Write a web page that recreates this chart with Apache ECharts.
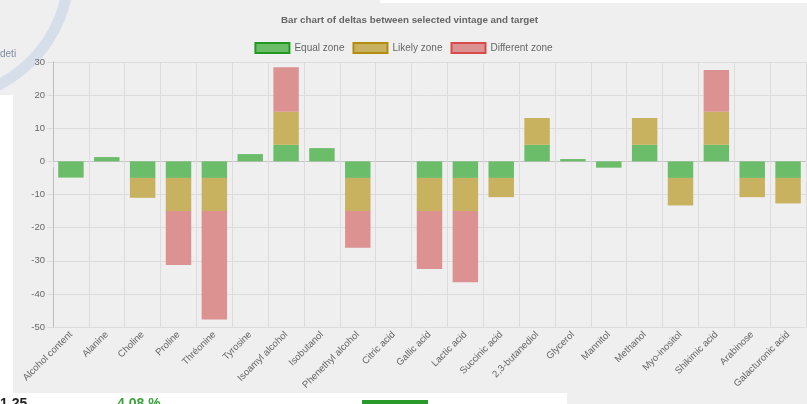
<!DOCTYPE html>
<html>
<head>
<meta charset="utf-8">
<script src="https://cdn.jsdelivr.net/npm/echarts@6/dist/echarts.min.js"></script>
<style>
  html, body { margin: 0; padding: 0; background: #fff; }
  #barChart { width: 807px; height: 404px; }
</style>
</head>
<body>
<div id="barChart"></div>
<script>
// categories (compounds)
var categories = ['Alcohol content', 'Alanine', 'Choline', 'Proline', 'Thréonine', 'Tyrosine',
  'Isoamyl alcohol', 'Isobutanol', 'Phenethyl alcohol', 'Citric acid', 'Gallic acid', 'Lactic acid',
  'Succinic acid', '2,3-butanediol', 'Glycerol', 'Mannitol', 'Methanol', 'Myo-inositol',
  'Shikimic acid', 'Arabinose', 'Galacturonic acid']

// stacked pieces of each delta
var equalZone = [-4.9, 1.3, -5, -5, -5, 2.2, 5, 4.0, -5, 0, -5, -5, -5, 5, 0.7, -1.9, 5, -5, 5, -5, -5]
var likelyZone = [0, 0, -6, -10, -10, 0, 10, 0, -10, 0, -10, -10, -5.8, 8.1, 0, 0, 8.1, -8.3, 10, -5.8, -7.7]
var differentZone = [0, 0, 0, -16.3, -32.7, 0, 13.4, 0, -11.1, 0, -17.5, -21.5, 0, 0, 0, 0, 0, 0, 12.6, 0, 0]

var yTicks = [-50, -40, -30, -20, -10, 0, 10, 20, 30]

var barChart = echarts.init(document.getElementById('barChart'))
var font = 'Liberation Sans, Arial, sans-serif'
var gridColors = yTicks.map(function (t) { return t === 0 ? '#c4c4c4' : '#dcdcdc' })

var option = {
  backgroundColor: '#efefef',
  animation: false,
  textStyle: { fontFamily: font },
  title: {
    text: 'Bar chart of deltas between selected vintage and target',
    left: 276,
    top: 10,
    textStyle: { fontSize: 9.8, fontWeight: 'bold', color: '#666', fontFamily: font }
  },
  legend: {
    top: 37,
    left: 'center',
    icon: 'rect',
    itemWidth: 34,
    itemHeight: 10,
    itemGap: 8,
    textStyle: { fontSize: 10, color: '#666', fontFamily: font },
    data: [
      { name: 'Equal zone', itemStyle: { color: '#6cbd6a', borderColor: '#1f9a1f', borderWidth: 2 } },
      { name: 'Likely zone', itemStyle: { color: '#c8b25f', borderColor: '#b58d0c', borderWidth: 2 } },
      { name: 'Different zone', itemStyle: { color: '#dd9292', borderColor: '#d84b4b', borderWidth: 2 } }
    ]
  },
  grid: { left: 53, right: 1, top: 62, bottom: 77 },
  xAxis: {
    type: 'category',
    data: categories,
    axisLine: { show: false },
    axisTick: { show: true, length: 6, interval: 0, lineStyle: { color: '#dcdcdc' } },
    splitLine: { show: true, interval: 0, lineStyle: { color: '#dcdcdc' } },
    axisLabel: { interval: 0, rotate: 45, fontSize: 9.6, color: '#666', margin: 6, fontFamily: font }
  },
  yAxis: {
    type: 'value',
    min: -50,
    max: 30,
    interval: 10,
    axisLine: { show: true, lineStyle: { color: '#bdbdbd' } },
    axisTick: { show: true, length: 6, lineStyle: { color: '#dcdcdc' } },
    axisLabel: { fontSize: 9.5, color: '#666', margin: 8, fontFamily: font },
    splitLine: { show: true, lineStyle: { color: gridColors } }
  },
  series: [
    { name: 'Equal zone', type: 'bar', stack: 'delta', barWidth: '71%', data: equalZone,
      itemStyle: { color: '#6cbd6a' } },
    { name: 'Likely zone', type: 'bar', stack: 'delta', barWidth: '71%', data: likelyZone,
      itemStyle: { color: '#c8b25f' } },
    { name: 'Different zone', type: 'bar', stack: 'delta', barWidth: '71%', data: differentZone,
      itemStyle: { color: '#dd9292' } }
  ],
  graphic: [
    // bits of the surrounding page caught in the screenshot
    { type: 'rect', shape: { x: 380, y: 0, width: 427, height: 3 }, style: { fill: '#fff' }, silent: true },
    { type: 'rect', shape: { x: 0, y: 95, width: 13, height: 300 }, style: { fill: '#fff' }, silent: true },
    { type: 'rect', shape: { x: 0, y: 393, width: 567, height: 11 }, style: { fill: '#fff' }, silent: true },
    { type: 'arc', shape: { cx: -60, cy: -30, r: 129, startAngle: 0, endAngle: Math.PI / 2 },
      style: { stroke: '#d6deea', lineWidth: 11, fill: null }, silent: true },
    { type: 'text', left: 0, top: 49, style: { text: 'deti', fill: '#7f8ba0', fontSize: 10, fontFamily: font }, silent: true },
    { type: 'text', left: 0, top: 397, style: { text: '1.25', fill: '#222', fontSize: 14, fontWeight: 'bold', fontFamily: font }, silent: true },
    { type: 'text', left: 117, top: 397, style: { text: '4.08 %', fill: '#3aa33a', fontSize: 14, fontWeight: 'bold', fontFamily: font }, silent: true },
    { type: 'rect', shape: { x: 362, y: 400, width: 66, height: 6 }, style: { fill: '#2a9a2a' }, silent: true }
  ]
}
barChart.setOption(option)
</script>
</body>
</html>
